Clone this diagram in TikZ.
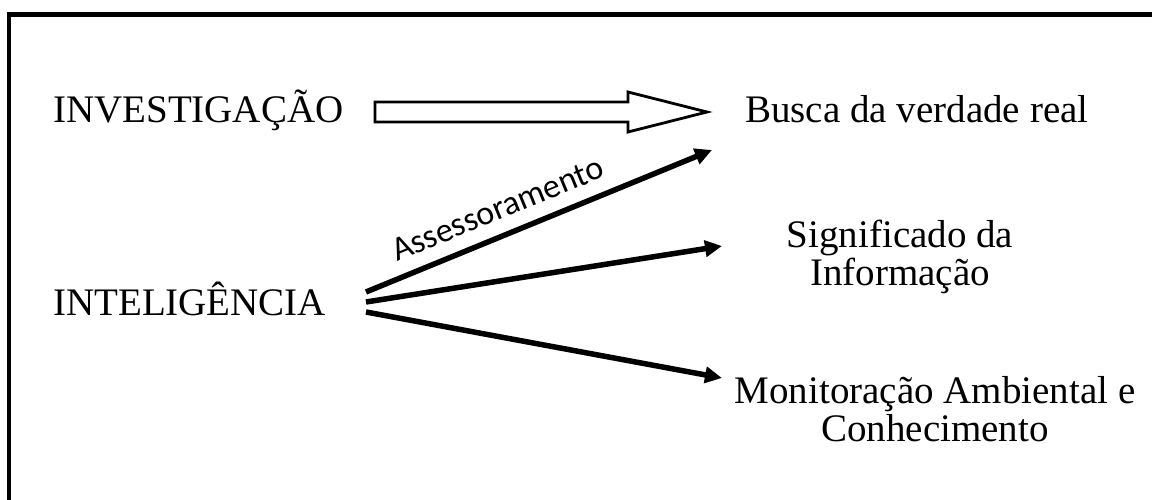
\documentclass[tikz,border=0pt]{standalone}
\usepackage{fontspec}
\setmainfont{Liberation Serif}
\newfontfamily\labelfont{Carlito}
\usetikzlibrary{arrows.meta,calc}

\begin{document}
\begin{tikzpicture}[x=1pt,y=-1pt,
  term/.style={inner sep=0pt, font=\fontsize{39}{38}\selectfont},
  goal/.style={term, align=center},
  link/.style={line width=5.5pt, -{Triangle[length=17pt,width=16pt]}},
  linklabel/.style={inner sep=0pt, font=\labelfont\fontsize{34}{34}\selectfont},
  hollow/.style={draw=black, fill=white, line width=2.8pt, line join=miter},
  frame/.style={line width=4.5pt}]
\useasboundingbox (0,0) rectangle (1152,500);
\clip (0,0) rectangle (1152,500);

% outer frame (continues past the right and bottom edges)
\draw[frame] (9,520) -- (9,14.5) -- (1200,14.5);

% terms (multi-line nodes are placed by the baseline of their last line)
\node[term, anchor=base west] (inv) at (53,123) {INVESTIGAÇÃO};
\node[term, anchor=base west] (int) at (53,315) {INTELIGÊNCIA};
\node[term, anchor=base west] (busca) at (745,123) {Busca da verdade real};
\node[goal, anchor=base] (sig) at (900,285) {Significado da\\Informação};
\node[goal, anchor=base] (mon) at (935,441) {Monitoração Ambiental e\\Conhecimento};

% hollow block arrow: investigação -> busca
\coordinate (hs) at (375,112);
\coordinate (ht) at (707,112);
\draw[hollow] ($(hs)+(0,-10)$) -- (628,102) -- (628,92) -- (ht) -- (628,132)
  -- (628,122) -- ($(hs)+(0,10)$) -- cycle;

% arrows leaving inteligência
\coordinate (o1) at (366,292);
\coordinate (o2) at (366,302);
\coordinate (o3) at (366,312);
\coordinate (t1) at (712,150);
\coordinate (t2) at (722,246);
\coordinate (t3) at (722,378);
\draw[link] (o1) -- node[pos=0.41, sloped, above=13pt, linklabel] (ass) {Assessoramento} (t1);
\draw[link] (o2) -- (t2);
\draw[link] (o3) -- (t3);
\end{tikzpicture}
\end{document}
